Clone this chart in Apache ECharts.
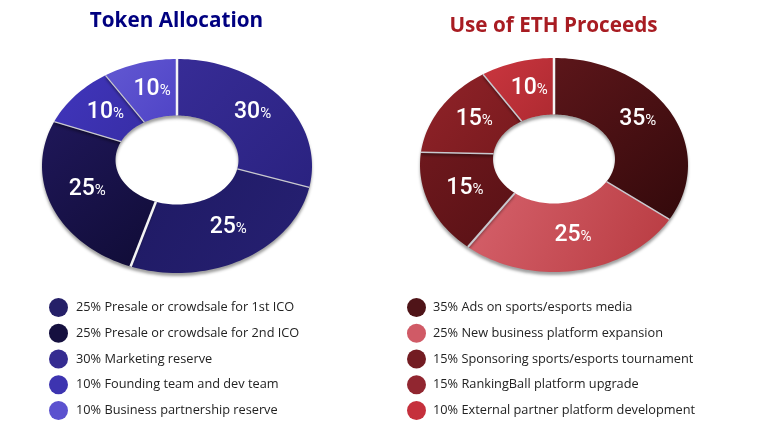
<!DOCTYPE html>
<html><head><meta charset="utf-8">
<style>html,body{margin:0;padding:0;background:#fff}#c{width:768px;height:440px}</style>
<script src="https://cdn.jsdelivr.net/npm/echarts@6/dist/echarts.min.js"></script>
</head><body><div id="c"></div>
<script>
// Data
const tokenTitle = 'Token Allocation';
const tokenSliceValues = [30, 25, 25, 10, 10];
const tokenSliceNames = ['30% Marketing reserve', '25% Presale or crowdsale for 1st ICO', '25% Presale or crowdsale for 2nd ICO', '10% Founding team and dev team', '10% Business partnership reserve'];
const tokenLegendOrder = ['25% Presale or crowdsale for 1st ICO', '25% Presale or crowdsale for 2nd ICO', '30% Marketing reserve', '10% Founding team and dev team', '10% Business partnership reserve'];
const ethTitle = 'Use of ETH Proceeds';
const ethSliceValues = [35, 25, 15, 15, 10];
const ethSliceNames = ['35% Ads on sports/esports media', '25% New business platform expansion', '15% Sponsoring sports/esports tournament', '15% RankingBall platform upgrade', '10% External partner platform development'];

// Style
const tokenFill = [['#372c96','#2a2280'],['#1f1a64','#262072'],['#1f1759','#100c36'],['#4035bc','#382ea6'],['#6258d2','#4f44c6']];
const tokenKey = ['#352c91','#252068','#15103f','#3d34b0','#5c52cf'];
const ethFill = [['#5c161a','#33090b'],['#d6626c','#b83b41'],['#6e181d','#581115'],['#912329','#781a1e'],['#ca363f','#ae2a31']];
const ethKey = ['#4f1418','#d05a66','#731c22','#912630','#c5303c'];
const tokenEdges = [2.5,1.2,2.5,1.2,1.2];
const ethEdges = [2.5,1.5,2,1.5,1.5];
const tokenGeo = {cx:177,cy:166,a:135,b:107,hcy:160,ha:61.5,hb:44.5};
const ethGeo = {cx:554,cy:165,a:134,b:107,hcy:159,ha:61,hb:44.5};
const WARP = 6.8*Math.PI/180;

function ringPoint(g, pct, t){
  const th0 = pct/100*2*Math.PI;
  const th = th0 - WARP*Math.sin(th0);
  const oa = t*g.a+(1-t)*g.ha, ob = t*g.b+(1-t)*g.hb, oy = t*g.cy+(1-t)*g.hcy;
  return [g.cx+oa*Math.sin(th), oy-ob*Math.cos(th)];
}
function labelStyle(v){
  return {text:`{n|${v}}{p|%}`, align:'center', verticalAlign:'middle', fill:'#fff',
    rich:{n:{fontFamily:'Roboto',fontSize:23,fontWeight:500,fill:'#fff',color:'#fff'},
          p:{fontFamily:'Roboto',fontSize:15,fontWeight:400,fill:'#fff',color:'#fff',padding:[4,0,0,0]}}};
}
function sliceSeries(names, values, fills, keys, edges, g){
  let acc = 0;
  return names.map((name,i)=>{
    const start = acc; acc += values[i];
    return {
      type:'custom', name, coordinateSystem:'none', color:keys[i],
      data:[[start, values[i]]], silent:true, animation:false,
      renderItem(params, api){
        const s = api.value(0), v = api.value(1), pts = [];
        const n = Math.max(8, Math.round(v*2));
        for(let k=0;k<=n;k++) pts.push(ringPoint(g, s+v*k/n, 1));
        for(let k=n;k>=0;k--) pts.push(ringPoint(g, s+v*k/n, 0));
        const mid = ringPoint(g, s+v/2, 0.5);
        const a = ringPoint(g,s,0), b = ringPoint(g,s,1);
        return {type:'group', children:[
          {type:'polygon', shape:{points:pts}, style:{
            fill:new echarts.graphic.LinearGradient(0,0,1,1,[{offset:0,color:fills[i][0]},{offset:1,color:fills[i][1]}]),
            shadowColor:'rgba(0,0,0,0.38)', shadowBlur:3, shadowOffsetY:3}},
          {type:'line', shape:{x1:a[0],y1:a[1],x2:b[0],y2:b[1]},
            style:{stroke:edges[i]>2?'#f4f4f4':'#c9c9cf',lineWidth:edges[i]}, z2:5},
          {type:'text', x:mid[0]+2, y:mid[1]-1, z2:10, style:labelStyle(v)}
        ]};
      }
    };
  });
}
function legendOf(order, left, gapText){
  return {orient:'vertical', left, top:293, itemWidth:19, itemHeight:19, itemGap:6.75, icon:'circle',
    data:order, selectedMode:false,
    textStyle:{fontFamily:'Open Sans',fontSize:12.75,color:'#222',padding:[0,0,0,gapText]}};
}
const chart = echarts.init(document.getElementById('c'));
chart.setOption({
  backgroundColor:'#fff', animation:false,
  title:[
    {text:tokenTitle,left:171.5,top:6,textAlign:'center',textStyle:{fontFamily:'Open Sans',fontSize:20.7,fontWeight:700,color:'#000080'}},
    {text:ethTitle,left:548.5,top:11,textAlign:'center',textStyle:{fontFamily:'Open Sans',fontSize:20.7,fontWeight:700,color:'#a81c22'}}
  ],
  legend:[legendOf(tokenLegendOrder,44,3), legendOf(ethSliceNames,402,2)],
  series:[...sliceSeries(tokenSliceNames,tokenSliceValues,tokenFill,tokenKey,tokenEdges,tokenGeo),
          ...sliceSeries(ethSliceNames,ethSliceValues,ethFill,ethKey,ethEdges,ethGeo)]
});
</script></body></html>
